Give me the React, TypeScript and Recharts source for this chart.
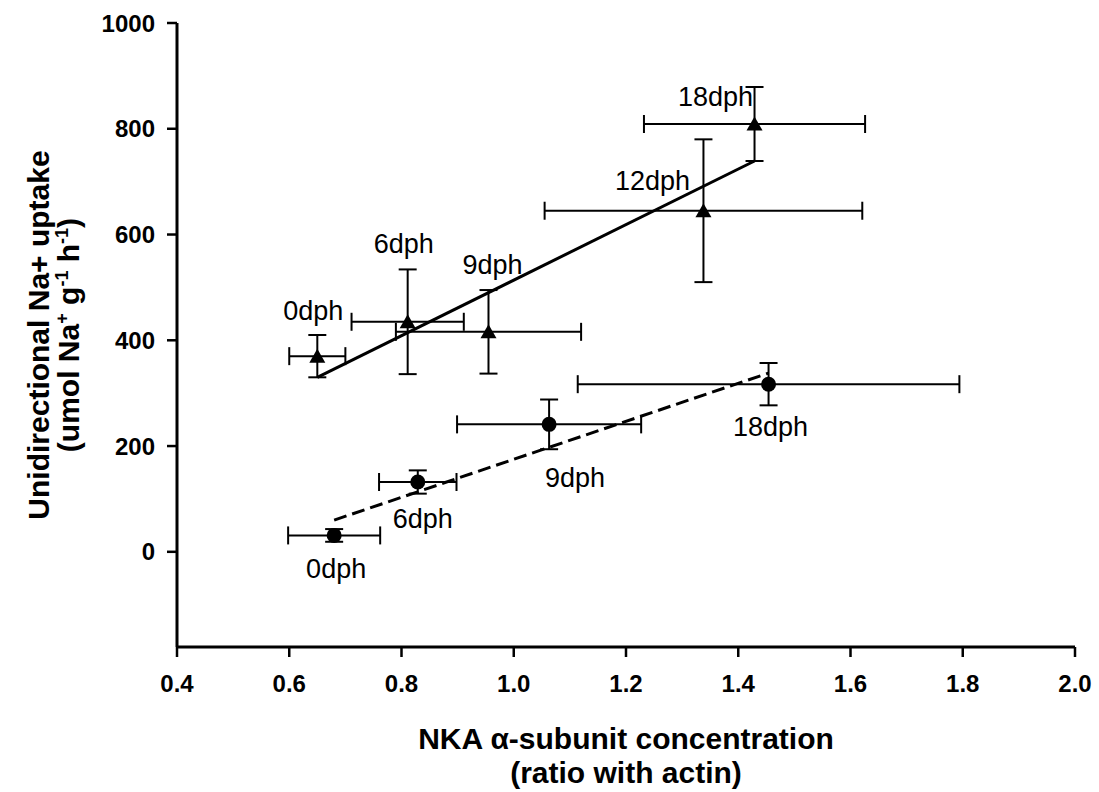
import React from 'react';
import { ScatterChart, Scatter, XAxis, YAxis, ErrorBar } from 'recharts';

// ---- data ----
const triX = [0.65, 0.811, 0.955, 1.338, 1.429];
const triY = [370, 435, 416, 645, 809];
const triXErr = [0.05, 0.1, 0.165, 0.283, 0.197];
const triYErr = [40, 99, 79, 135, 70];
const triLabels = ['0dph', '6dph', '9dph', '12dph', '18dph'];

const circX = [0.68, 0.829, 1.063, 1.454];
const circY = [31, 132, 241, 317];
const circXErr = [0.082, 0.069, 0.164, 0.34];
const circYErr = [12, 22, 47, 40];
const circLabels = ['0dph', '6dph', '9dph', '18dph'];

const solidTrendX = [0.65, 1.429];
const solidTrendY = [330, 739];
const dashedTrendX = [0.68, 1.454];
const dashedTrendY = [60, 338];

const xTicks = [0.4, 0.6, 0.8, 1.0, 1.2, 1.4, 1.6, 1.8, 2.0];
const yTicks = [0, 200, 400, 600, 800, 1000];

// ---- layout config (label placement relative to the marker, px) ----
const triLabelOffset: Record<string, [number, number]> = {
  '0dph': [-4, -45],
  '6dph': [-4, -78],
  '9dph': [4, -67],
  '12dph': [-51, -30],
  '18dph': [-39, -27],
};
const circLabelOffset: Record<string, [number, number]> = {
  '0dph': [2, 34],
  '6dph': [5, 37],
  '9dph': [26, 54],
  '18dph': [2, 43],
};

const FONT = "'Liberation Sans', Arial, Helvetica, sans-serif";

const triData = triX.map((x, i) => ({ x, y: triY[i], ex: triXErr[i], ey: triYErr[i], label: triLabels[i] }));
const circData = circX.map((x, i) => ({ x, y: circY[i], ex: circXErr[i], ey: circYErr[i], label: circLabels[i] }));
const solidTrend = solidTrendX.map((x, i) => ({ x, y: solidTrendY[i] }));
const dashedTrend = dashedTrendX.map((x, i) => ({ x, y: dashedTrendY[i] }));

const labelText = (cx: number, cy: number, text: string, off: [number, number]) => (
  <text
    x={cx + off[0]}
    y={cy + off[1]}
    textAnchor="middle"
    dominantBaseline="central"
    fontFamily={FONT}
    fontSize={27}
    fill="#000"
  >
    {text}
  </text>
);

const TriShape = (props: any) => {
  const { cx, cy, payload } = props;
  if (cx == null || cy == null) return <g />;
  const off = triLabelOffset[payload.label] || [0, -30];
  return (
    <g>
      <polygon points={`${cx},${cy - 7.5} ${cx - 8},${cy + 6.5} ${cx + 8},${cy + 6.5}`} fill="#000" />
      {labelText(cx, cy, payload.label, off)}
    </g>
  );
};

const CircShape = (props: any) => {
  const { cx, cy, payload } = props;
  if (cx == null || cy == null) return <g />;
  const off = circLabelOffset[payload.label] || [0, 30];
  return (
    <g>
      <circle cx={cx} cy={cy} r={7.5} fill="#000" />
      {labelText(cx, cy, payload.label, off)}
    </g>
  );
};

const NoShape = () => <g />;

const tickStyle = { fill: '#000', fontSize: 24, fontWeight: 700, fontFamily: FONT };
const supStyle = { fontSize: '0.6em', lineHeight: 0 };

export default function App() {
  return (
    <div style={{ position: 'absolute', left: 0, top: 0, width: 1099, height: 792, background: '#fff' }}>
      <ScatterChart width={1099} height={792} margin={{ top: 23, right: 24, bottom: 85, left: 0 }}>
        <XAxis
          type="number"
          dataKey="x"
          domain={[0.4, 2.0]}
          ticks={xTicks}
          interval={0}
          tickFormatter={(v: number) => v.toFixed(1)}
          allowDataOverflow
          height={60}
          tickSize={10}
          tickMargin={18}
          axisLine={{ stroke: '#000', strokeWidth: 3 }}
          tickLine={{ stroke: '#000', strokeWidth: 2.5 }}
          tick={tickStyle}
        />
        <YAxis
          type="number"
          dataKey="y"
          domain={[-180, 1000]}
          ticks={yTicks}
          interval={0}
          allowDataOverflow
          width={177}
          tickSize={10}
          tickMargin={12}
          axisLine={{ stroke: '#000', strokeWidth: 3 }}
          tickLine={{ stroke: '#000', strokeWidth: 2.5 }}
          tick={tickStyle}
        />
        <Scatter
          data={solidTrend}
          dataKey="y"
          line={{ stroke: '#000', strokeWidth: 3 }}
          shape={NoShape}
          isAnimationActive={false}
        />
        <Scatter
          data={dashedTrend}
          dataKey="y"
          line={{ stroke: '#000', strokeWidth: 3, strokeDasharray: '13 6' }}
          shape={NoShape}
          isAnimationActive={false}
        />
        <Scatter data={triData} dataKey="y" shape={TriShape} isAnimationActive={false}>
          <ErrorBar dataKey="ex" direction="x" width={9} stroke="#000" strokeWidth={2} />
          <ErrorBar dataKey="ey" direction="y" width={9} stroke="#000" strokeWidth={2} />
        </Scatter>
        <Scatter data={circData} dataKey="y" shape={CircShape} isAnimationActive={false}>
          <ErrorBar dataKey="ex" direction="x" width={9} stroke="#000" strokeWidth={2} />
          <ErrorBar dataKey="ey" direction="y" width={9} stroke="#000" strokeWidth={2} />
        </Scatter>
      </ScatterChart>

      {/* X axis title */}
      <div
        style={{
          position: 'absolute',
          left: 626 - 350,
          width: 700,
          top: 722,
          textAlign: 'center',
          fontFamily: FONT,
          fontWeight: 700,
          fontSize: 30,
          lineHeight: '34px',
          color: '#000',
          whiteSpace: 'nowrap',
        }}
      >
        <div>NKA α-subunit concentration</div>
        <div>(ratio with actin)</div>
      </div>

      {/* Y axis title */}
      <div
        style={{
          position: 'absolute',
          left: 54 - 300,
          top: 335 - 30,
          width: 600,
          height: 60,
          transform: 'rotate(-90deg)',
          transformOrigin: '50% 50%',
          textAlign: 'center',
          fontFamily: FONT,
          fontWeight: 700,
          fontSize: 30,
          lineHeight: '30px',
          color: '#000',
          whiteSpace: 'nowrap',
        }}
      >
        <div>Unidirectional Na+ uptake</div>
        <div>
          (umol Na<sup style={supStyle}>+</sup> g<sup style={supStyle}>-1</sup> h<sup style={supStyle}>-1</sup>)
        </div>
      </div>
    </div>
  );
}
